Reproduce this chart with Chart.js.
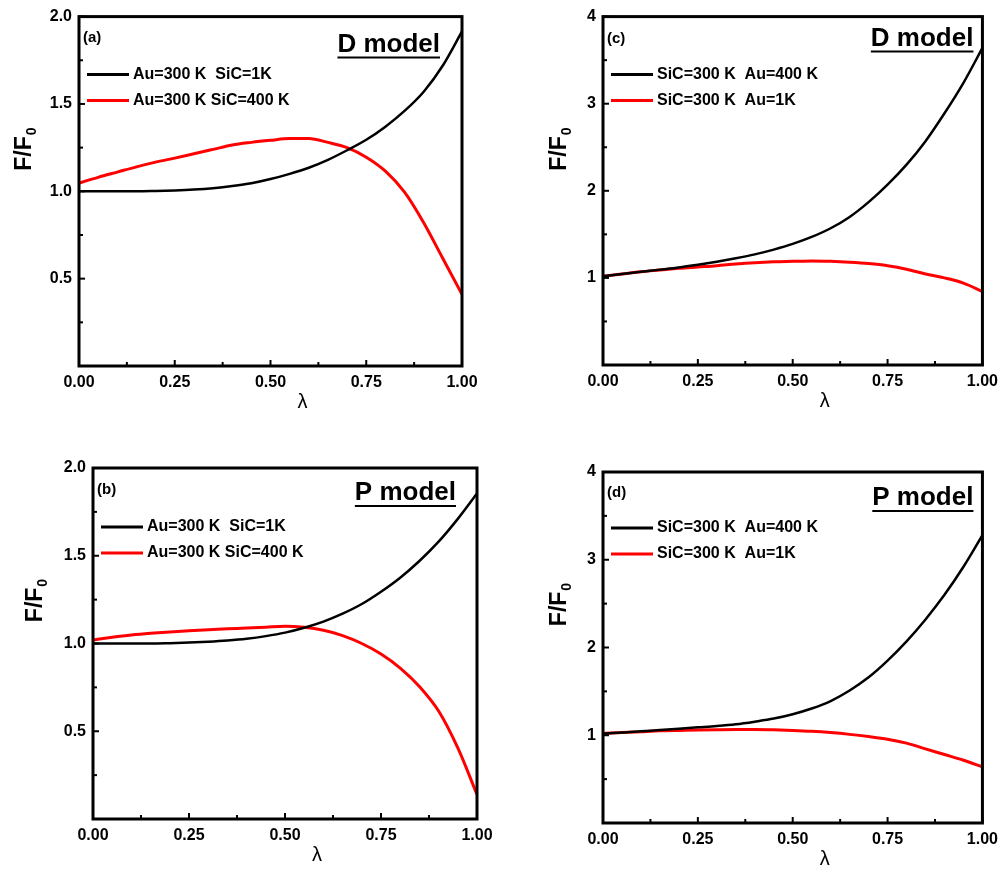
<!DOCTYPE html>
<html>
<head>
<meta charset="utf-8">
<script src="https://cdn.jsdelivr.net/npm/chart.js@4.4.0/dist/chart.umd.min.js"></script>
<style>
  body { margin: 0; background: #fff; }
  #wrap { position: relative; width: 1005px; height: 870px; }
  .panel { position: absolute; height: 430px; }
</style>
</head>
<body>
<div id="wrap">
  <div class="panel" style="left:0;top:0;width:500px"><canvas id="chartA"></canvas></div>
  <div class="panel" style="left:500px;top:0;width:505px"><canvas id="chartC"></canvas></div>
  <div class="panel" style="left:0;top:440px;width:500px"><canvas id="chartB"></canvas></div>
  <div class="panel" style="left:500px;top:440px;width:505px"><canvas id="chartD"></canvas></div>
</div>
<script>
// lambda values shared by every curve
const lambda = [0, 0.05, 0.1, 0.15, 0.2, 0.25, 0.3, 0.35, 0.4, 0.45, 0.5,
                0.55, 0.6, 0.65, 0.7, 0.75, 0.8, 0.85, 0.9, 0.95, 1.0];

// (a) D model
const aBlack = [1.00, 1.00, 1.00, 1.00, 1.002, 1.005, 1.01, 1.018, 1.03, 1.046, 1.07,
                1.10, 1.135, 1.18, 1.235, 1.295, 1.37, 1.46, 1.57, 1.72, 1.915];
const aRed   = [1.047, 1.08, 1.11, 1.14, 1.167, 1.19, 1.215, 1.24, 1.265, 1.28, 1.292,
                1.302, 1.302, 1.28, 1.25, 1.195, 1.115, 0.995, 0.82, 0.615, 0.41];
// (b) P model
const bBlack = [1.00, 1.00, 1.00, 1.00, 1.002, 1.005, 1.01, 1.017, 1.027, 1.042, 1.062,
                1.09, 1.125, 1.17, 1.225, 1.295, 1.375, 1.47, 1.58, 1.71, 1.855];
const bRed   = [1.02, 1.035, 1.048, 1.058, 1.066, 1.073, 1.079, 1.084, 1.088, 1.093, 1.098,
                1.092, 1.075, 1.045, 1.0, 0.94, 0.86, 0.755, 0.615, 0.405, 0.14];
// (c) D model
const cBlack = [1.02, 1.045, 1.07, 1.095, 1.12, 1.15, 1.185, 1.225, 1.27, 1.325, 1.39,
                1.47, 1.57, 1.70, 1.87, 2.07, 2.30, 2.57, 2.89, 3.24, 3.64];
const cRed   = [1.02, 1.045, 1.07, 1.09, 1.11, 1.125, 1.14, 1.16, 1.175, 1.185, 1.19,
                1.195, 1.19, 1.18, 1.165, 1.14, 1.10, 1.045, 1.0, 0.94, 0.845];
// (d) P model
const dBlack = [1.02, 1.03, 1.045, 1.06, 1.075, 1.09, 1.105, 1.125, 1.155, 1.19, 1.24,
                1.305, 1.39, 1.51, 1.66, 1.85, 2.07, 2.32, 2.60, 2.92, 3.28];
const dRed   = [1.02, 1.03, 1.04, 1.05, 1.055, 1.06, 1.063, 1.065, 1.065, 1.062, 1.055,
                1.045, 1.03, 1.01, 0.985, 0.955, 0.91, 0.845, 0.78, 0.715, 0.64];

const legendAuFixed = ['Au=300 K  SiC=1K', 'Au=300 K SiC=400 K'];
const legendSiCFixed = ['SiC=300 K  Au=400 K', 'SiC=300 K  Au=1K'];

Chart.defaults.font.family = '"Liberation Sans", Arial, sans-serif';
Chart.defaults.color = '#000';

function isStep(v, step) {
  return Math.abs(v / step - Math.round(v / step)) < 1e-6;
}

// frame, inward ticks, tag, model title, legend and axis titles
const panelPlugin = {
  id: 'panel',
  afterDraw(chart, args, opts) {
    const ctx = chart.ctx;
    const ca = chart.chartArea;
    const xs = chart.scales.x, ys = chart.scales.y;
    ctx.save();

    ctx.strokeStyle = '#000';
    ctx.lineWidth = 2;
    xs.ticks.forEach((t) => {
      const px = xs.getPixelForValue(t.value);
      ctx.beginPath();
      ctx.moveTo(px, ca.bottom);
      ctx.lineTo(px, ca.bottom - (t.label ? 6 : 4));
      ctx.stroke();
    });
    ys.ticks.forEach((t) => {
      const py = ys.getPixelForValue(t.value);
      ctx.beginPath();
      ctx.moveTo(ca.left, py);
      ctx.lineTo(ca.left + (t.label ? 6 : 4), py);
      ctx.stroke();
    });
    ctx.lineWidth = 3;
    ctx.strokeRect(ca.left, ca.top, ca.right - ca.left, ca.bottom - ca.top);

    ctx.fillStyle = '#000';
    ctx.textBaseline = 'middle';
    ctx.textAlign = 'left';
    ctx.font = 'bold 15px "Liberation Sans", Arial, sans-serif';
    ctx.fillText(opts.tag, ca.left + 4, ca.top + opts.tagY);

    // model name, underlined
    ctx.font = 'bold 26px "Liberation Sans", Arial, sans-serif';
    ctx.textBaseline = 'alphabetic';
    ctx.textAlign = 'right';
    const tx = ca.right - opts.titleRight;
    const ty = ca.top + opts.titleBase;
    ctx.fillText(opts.title, tx, ty);
    const tw = ctx.measureText(opts.title).width;
    ctx.lineWidth = 2;
    ctx.beginPath();
    ctx.moveTo(tx - tw, ty + 6);
    ctx.lineTo(tx, ty + 6);
    ctx.stroke();

    // legend
    ctx.textAlign = 'left';
    ctx.textBaseline = 'middle';
    ctx.font = 'bold 16px "Liberation Sans", Arial, sans-serif';
    chart.data.datasets.forEach((ds, i) => {
      const ly = ca.top + opts.legendY + 26 * i;
      ctx.strokeStyle = ds.borderColor;
      ctx.lineWidth = 3;
      ctx.beginPath();
      ctx.moveTo(ca.left + 8, ly);
      ctx.lineTo(ca.left + 50, ly);
      ctx.stroke();
      ctx.fillStyle = '#000';
      ctx.fillText(ds.label, ca.left + 54, ly);
    });

    // x title
    ctx.textAlign = 'center';
    ctx.font = '20px "Liberation Sans", Arial, sans-serif';
    ctx.fillText('λ', (ca.left + ca.right) / 2 + 32, ca.bottom + 36);

    // y title with subscript
    ctx.translate(opts.yTitleX, ca.top + 133);
    ctx.rotate(-Math.PI / 2);
    ctx.textAlign = 'left';
    ctx.textBaseline = 'middle';
    ctx.font = 'bold 23px "Liberation Sans", Arial, sans-serif';
    const w1 = ctx.measureText('F/F').width;
    ctx.font = 'bold 14px "Liberation Sans", Arial, sans-serif';
    const w2 = ctx.measureText('0').width;
    const x0 = -(w1 + w2) / 2;
    ctx.font = 'bold 23px "Liberation Sans", Arial, sans-serif';
    ctx.fillText('F/F', x0, 0);
    ctx.font = 'bold 14px "Liberation Sans", Arial, sans-serif';
    ctx.fillText('0', x0 + w1 + 1, 7);
    ctx.restore();
  }
};

function makePanel(canvasId, black, red, labels, yMax, yStep, yLabelStep, yDigits, box, text) {
  const toPoints = (arr) => lambda.map((l, i) => ({ x: l, y: arr[i] }));
  return new Chart(document.getElementById(canvasId), {
    type: 'line',
    data: {
      datasets: [
        { label: labels[0], data: toPoints(black), borderColor: '#000000', borderWidth: 2.5,
          pointRadius: 0, cubicInterpolationMode: 'monotone', fill: false },
        { label: labels[1], data: toPoints(red), borderColor: '#ff0000', borderWidth: 3,
          pointRadius: 0, cubicInterpolationMode: 'monotone', fill: false },
      ],
    },
    options: {
      responsive: true,
      maintainAspectRatio: false,
      animation: false,
      layout: { padding: { left: 0, top: box.top, right: box.right, bottom: 0 } },
      plugins: {
        legend: { display: false },
        tooltip: { enabled: false },
        panel: text,
      },
      scales: {
        x: {
          type: 'linear',
          min: 0,
          max: 1,
          grid: { display: false, drawTicks: false },
          border: { display: false },
          ticks: {
            stepSize: 0.125,
            autoSkip: false,
            maxRotation: 0,
            padding: 7,
            font: { size: 16, weight: 'bold' },
            callback: (v) => (isStep(v, 0.25) ? v.toFixed(2) : ''),
          },
          afterFit: (scale) => { scale.height = box.xHeight; },
        },
        y: {
          min: 0,
          max: yMax,
          grid: { display: false, drawTicks: false },
          border: { display: false },
          ticks: {
            stepSize: yStep,
            autoSkip: false,
            padding: 7,
            font: { size: 16, weight: 'bold' },
            callback: (v) => (v > 0 && isStep(v, yLabelStep) ? v.toFixed(yDigits) : ''),
          },
          afterFit: (scale) => { scale.width = box.left; },
        },
      },
    },
    plugins: [panelPlugin],
  });
}

makePanel('chartA', aBlack, aRed, legendAuFixed, 2, 0.25, 0.5, 1,
  { left: 79, top: 15, right: 38, xHeight: 64 },
  { tag: '(a)', tagY: 21, title: 'D model', titleRight: 22, titleBase: 35, legendY: 58, yTitleX: 25 });
makePanel('chartC', cBlack, cRed, legendSiCFixed, 4, 0.5, 1, 0,
  { left: 103, top: 13, right: 20, xHeight: 65 },
  { tag: '(c)', tagY: 22, title: 'D model', titleRight: 9, titleBase: 29, legendY: 58, yTitleX: 60 });
makePanel('chartB', bBlack, bRed, legendAuFixed, 2, 0.25, 0.5, 1,
  { left: 93, top: 28, right: 23, xHeight: 51 },
  { tag: '(b)', tagY: 22, title: 'P model', titleRight: 21, titleBase: 32, legendY: 59, yTitleX: 36 });
makePanel('chartD', dBlack, dRed, legendSiCFixed, 4, 0.5, 1, 0,
  { left: 103, top: 32, right: 19, xHeight: 47 },
  { tag: '(d)', tagY: 21, title: 'P model', titleRight: 9, titleBase: 33, legendY: 56, yTitleX: 60 });
</script>
</body>
</html>
